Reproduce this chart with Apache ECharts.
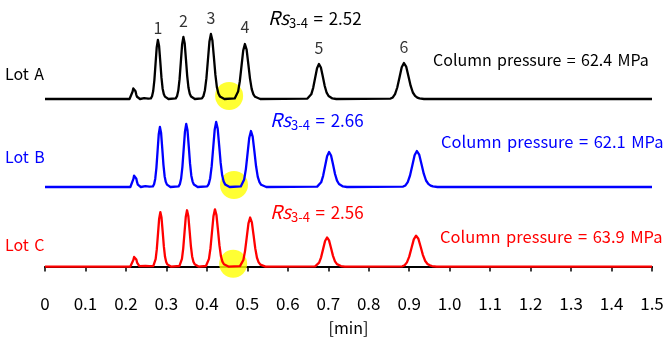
<!DOCTYPE html>
<html>
<head>
<meta charset="utf-8">
<script src="https://cdn.jsdelivr.net/npm/echarts@6/dist/echarts.min.js"></script>
<style>html,body{margin:0;padding:0;background:#fff;}#c{width:668px;height:337px;}</style>
</head>
<body>
<div id="c"></div>
<script>
// ---- data (time [min], signal [a.u.]) ----
const lotA = [[0,0],
 [0.2089,0],[0.2126,1.6],[0.2163,7.2],[0.21815,10.6],[0.220,12],[0.22185,10.8],[0.2237,7.7],[0.22555,4.4],[0.2274,2.2],[0.2311,0.5],[0.2348,0],
 [0.245,0.8],[0.255,0.4],
 [0.2616,0.6],[0.2645,2.7],[0.2674,8.0],[0.2703,18.9],[0.2732,35.4],[0.2761,51.9],[0.279,59],[0.2819,53.1],[0.2848,37.8],[0.2877,21.8],[0.2906,10.6],[0.2935,5.0],[0.2964,2.4],[0.2993,1.1],[0.3051,0],
 [0.3231,0.6],[0.32625,2.8],[0.3294,8.4],[0.33255,19.8],[0.3357,37.2],[0.33885,54.6],[0.342,62],[0.34515,55.8],[0.3483,39.7],[0.35145,22.9],[0.3546,11.2],[0.35775,5.3],[0.3609,2.5],[0.36405,1.1],[0.37035,0],
 [0.3878,0.7],[0.3915,2.9],[0.3952,8.8],[0.3989,20.8],[0.4026,39],[0.4063,57.2],[0.410,65],[0.4137,58.5],[0.4174,41.6],[0.4211,24.1],[0.4248,11.7],[0.4285,5.5],[0.4322,2.6],[0.4359,1.2],[0.4433,0],
 [0.4688,0.6],[0.473,2.5],[0.4772,7.4],[0.4814,17.6],[0.4856,33],[0.4898,48.4],[0.494,55],[0.4982,49.5],[0.5024,35.2],[0.5066,20.4],[0.5108,9.9],[0.515,4.7],[0.5192,2.2],[0.5234,1.0],[0.5318,0],
 [0.6485,0.4],[0.65325,1.6],[0.658,4.7],[0.66275,11.2],[0.6675,21],[0.67225,30.8],[0.677,35],[0.68175,31.5],[0.6865,22.4],[0.69125,13],[0.696,6.3],[0.70075,3.0],[0.7055,1.4],[0.71025,0.6],[0.71975,0],
 [0.854,0.4],[0.8595,1.6],[0.865,4.9],[0.8705,11.5],[0.876,21.6],[0.8815,31.7],[0.887,36],[0.8925,32.4],[0.898,23],[0.9035,13.3],[0.909,6.5],[0.9145,3.1],[0.92,1.4],[0.9255,0.6],[0.9365,0],
 [1.5,0]];
const lotB = [[0,0],
 [0.2109,0],[0.2146,1.8],[0.2183,7.8],[0.22015,11.4],[0.222,13],[0.22385,11.7],[0.2257,8.3],[0.22755,4.8],[0.2294,2.3],[0.2331,0.5],[0.2368,0],
 [0.248,0.8],[0.258,0.4],
 [0.2666,0.6],[0.2695,2.7],[0.2724,8.1],[0.2753,19.2],[0.2782,36],[0.2811,52.8],[0.284,60],[0.2869,54],[0.2898,38.4],[0.2927,22.2],[0.2956,10.8],[0.2985,5.1],[0.3014,2.4],[0.3043,1.1],[0.3101,0],
 [0.3301,0.6],[0.33325,2.8],[0.3364,8.5],[0.33955,20.2],[0.3427,37.8],[0.34585,55.4],[0.349,63],[0.35215,56.7],[0.3553,40.3],[0.35845,23.3],[0.3616,11.3],[0.36475,5.4],[0.3679,2.5],[0.37105,1.1],[0.37735,0],
 [0.4008,0.7],[0.4045,2.9],[0.4082,8.8],[0.4119,20.8],[0.4156,39],[0.4193,57.2],[0.423,65],[0.4267,58.5],[0.4304,41.6],[0.4341,24.1],[0.4378,11.7],[0.4415,5.5],[0.4452,2.6],[0.4489,1.2],[0.4563,0],
 [0.4838,0.6],[0.488,2.5],[0.4922,7.6],[0.4964,17.9],[0.5006,33.6],[0.5048,49.3],[0.509,56],[0.5132,50.4],[0.5174,35.8],[0.5216,20.7],[0.5258,10.1],[0.53,4.8],[0.5342,2.2],[0.5384,1.0],[0.5468,0],
 [0.6726,0.4],[0.6775,1.6],[0.6824,4.7],[0.6873,11.2],[0.6922,21],[0.6971,30.8],[0.702,35],[0.7069,31.5],[0.7118,22.4],[0.7167,13],[0.7216,6.3],[0.7265,3.0],[0.7314,1.4],[0.7363,0.6],[0.7461,0],
 [0.8851,0.4],[0.89075,1.6],[0.8964,4.9],[0.90205,11.5],[0.9077,21.6],[0.91335,31.7],[0.919,36],[0.92465,32.4],[0.9303,23],[0.93595,13.3],[0.9416,6.5],[0.94725,3.1],[0.9529,1.4],[0.95855,0.6],[0.96985,0],
 [1.5,0]];
const lotC = [[0,0],
 [0.2109,0],[0.2146,1.6],[0.2183,7.2],[0.22015,10.6],[0.222,12],[0.22385,10.8],[0.2257,7.7],[0.22755,4.4],[0.2294,2.2],[0.2331,0.5],[0.2368,0],
 [0.248,0.8],[0.258,0.4],
 [0.2676,0.6],[0.2705,2.7],[0.2734,8.1],[0.2763,19.2],[0.2792,36],[0.2821,52.8],[0.285,60],[0.2879,54],[0.2908,38.4],[0.2937,22.2],[0.2966,10.8],[0.2995,5.1],[0.3024,2.4],[0.3053,1.1],[0.3111,0],
 [0.3321,0.6],[0.33525,2.8],[0.3384,8.4],[0.34155,19.8],[0.3447,37.2],[0.34785,54.6],[0.351,62],[0.35415,55.8],[0.3573,39.7],[0.36045,22.9],[0.3636,11.2],[0.36675,5.3],[0.3699,2.5],[0.37305,1.1],[0.37935,0],
 [0.3978,0.6],[0.4015,2.8],[0.4052,8.5],[0.4089,20.2],[0.4126,37.8],[0.4163,55.4],[0.420,63],[0.4237,56.7],[0.4274,40.3],[0.4311,23.3],[0.4348,11.3],[0.4385,5.4],[0.4422,2.5],[0.4459,1.1],[0.4533,0],
 [0.4818,0.5],[0.486,2.4],[0.4902,7.3],[0.4944,17.3],[0.4986,32.4],[0.5028,47.5],[0.507,54],[0.5112,48.6],[0.5154,34.6],[0.5196,20],[0.5238,9.7],[0.528,4.6],[0.5322,2.2],[0.5364,1.0],[0.5448,0],
 [0.6676,0.3],[0.6725,1.4],[0.6774,4.3],[0.6823,10.2],[0.6872,19.2],[0.6921,28.2],[0.697,32],[0.7019,28.8],[0.7068,20.5],[0.7117,11.8],[0.7166,5.8],[0.7215,2.7],[0.7264,1.3],[0.7313,0.6],[0.7411,0],
 [0.8831,0.3],[0.88875,1.5],[0.8944,4.6],[0.90005,10.9],[0.9057,20.4],[0.91135,29.9],[0.917,34],[0.92265,30.6],[0.9283,21.8],[0.93395,12.6],[0.9396,6.1],[0.94525,2.9],[0.9509,1.4],[0.95655,0.6],[0.96785,0],
 [1.5,0]];

// peak numbers on Lot A: [time, label height]
const peakNames = ['1','2','3','4','5','6'];
const peakNumPos = [[0.279,71],[0.342,78],[0.410,81],[0.494,72],[0.677,51],[0.887,52]];
// resolution highlight (valley between peaks 3 and 4)
const valleyA = [[0.455,3]];
const valleyB = [[0.467,2]];
const valleyC = [[0.465,3]];

const lots = ['Lot A','Lot B','Lot C'];
const rsValues = ['2.52','2.66','2.56'];
const pressures = ['62.4','62.1','63.9'];
const colors = ['#000000','#0000ff','#ff0000'];

const FONT = 'Noto Sans CJK JP';
const SP = '\u2004';
const chart = echarts.init(document.getElementById('c'), null, {renderer:'canvas'});

const grids = [
  {left:45, right:16, top:9, height:100},
  {left:45, right:16, top:107, height:90},
  {left:45, right:16, top:203, height:87}
];
const yRanges = [[-10,90],[-10,80],[-17,70]];

const xAxes = grids.map((g,i)=>({
  type:'value', gridIndex:i, min:0, max:1.5, interval:0.1,
  show: i===2,
  axisLine:{show:true, lineStyle:{color:'#000', width:2}},
  axisTick:{show:true, length:5, lineStyle:{color:'#000', width:1.5}},
  splitLine:{show:false},
  axisLabel:{color:'#000', fontFamily:FONT, fontSize:17, margin:13,
    formatter:v=> (Math.abs(v)<1e-9 ? '0' : v.toFixed(1))},
  name: i===2 ? '[min]' : '', nameLocation:'middle', nameGap:38,
  nameTextStyle:{color:'#000', fontFamily:FONT, fontSize:16}
}));
const yAxes = grids.map((g,i)=>({type:'value', gridIndex:i, min:yRanges[i][0], max:yRanges[i][1], show:false}));

const lineData = [lotA, lotB, lotC];
const valleys = [valleyA, valleyB, valleyC];
const series = [];
lineData.forEach((d,i)=>{
  series.push({type:'scatter', xAxisIndex:i, yAxisIndex:i, data:valleys[i], symbol:'circle', symbolSize:28,
    itemStyle:{color:'#ffff00'}, z:1, silent:true});
  series.push({type:'line', xAxisIndex:i, yAxisIndex:i, data:d, showSymbol:false, smooth:false,
    lineStyle:{color:colors[i], width:2.3, join:'round'}, z:3, silent:true});
});
series.push({type:'scatter', xAxisIndex:0, yAxisIndex:0, symbolSize:0, z:4, silent:true,
  data: peakNumPos.map((p,k)=>({value:p, name:peakNames[k]})),
  label:{show:true, position:'inside', formatter:p=>p.name, color:'#000', fontFamily:FONT, fontSize:16}});

const graphic = [];
const lotY = [76,159,247];
const rsY = [20,122,214];
const rsX = [268,270,270];
const prY = [62,143,238];
const prX = [433,441,440];
const prSize = [16,16.5,16.5];
lots.forEach((name,i)=>{
  graphic.push({type:'text', left:5, top:lotY[i]-10, style:{text:name.replace(' ', SP), fill:colors[i], font:`16px "${FONT}"`}});
  graphic.push({type:'text', left:rsX[i], top:rsY[i]-12, style:{
    text:`{i|Rs}{s|3-4}{n|${SP}=${SP}${rsValues[i]}}`,
    rich:{
      i:{fontStyle:'italic', fontSize:19, fontFamily:FONT, fill:colors[i], verticalAlign:'bottom'},
      s:{fontSize:13, fontFamily:FONT, fill:colors[i], verticalAlign:'bottom', padding:[0,0,-3,0]},
      n:{fontSize:17, fontFamily:FONT, fill:colors[i], verticalAlign:'bottom'}
    }}});
  graphic.push({type:'text', left:prX[i], top:prY[i]-10, style:{text:['Column','pressure','=',pressures[i],'MPa'].join(SP), fill:colors[i], font:`${prSize[i]}px "${FONT}"`}});
});

chart.setOption({
  animation:false,
  backgroundColor:'#fff',
  grid:grids,
  xAxis:xAxes,
  yAxis:yAxes,
  series:series,
  graphic:graphic
});
</script>
</body>
</html>
